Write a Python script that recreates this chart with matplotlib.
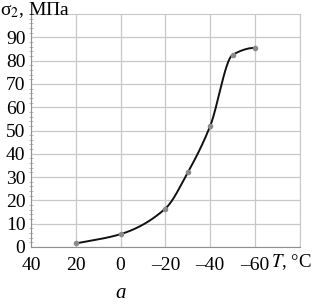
import numpy as np
import matplotlib
matplotlib.use('Agg')
import matplotlib.pyplot as plt
from matplotlib.ticker import MultipleLocator

# data
temps = [20, 0, -20, -30, -40, -50, -60]
sigma = [1.5, 5.5, 16.5, 32, 52, 82.5, 85.5]
x_ticks = [40, 20, 0, -20, -40, -60]
x_labels = ['40', '20', '0', '\u201320', '\u201340', '\u201360']
y_ticks = [0, 10, 20, 30, 40, 50, 60, 70, 80, 90]


def pchip(x, y, xs):
    # monotone cubic, just for a smooth line through the points
    x = np.asarray(x, float); y = np.asarray(y, float)
    h = np.diff(x); d = np.diff(y) / h
    m = np.zeros_like(y)
    for k in range(1, len(x) - 1):
        if d[k - 1] * d[k] > 0:
            w1 = 2 * h[k] + h[k - 1]; w2 = h[k] + 2 * h[k - 1]
            m[k] = (w1 + w2) / (w1 / d[k - 1] + w2 / d[k])
    m[0] = 0.0; m[-1] = d[-1]
    out = []
    for xv in xs:
        k = min(max(np.searchsorted(x, xv) - 1, 0), len(x) - 2)
        t = (xv - x[k]) / h[k]
        h00 = 2*t**3 - 3*t**2 + 1; h10 = t**3 - 2*t**2 + t
        h01 = -2*t**3 + 3*t**2; h11 = t**3 - t**2
        out.append(h00*y[k] + h10*h[k]*m[k] + h01*y[k+1] + h11*h[k]*m[k+1])
    return np.array(out)


plt.rcParams['font.family'] = ['Liberation Serif', 'DejaVu Serif']
plt.rcParams['mathtext.fontset'] = 'stix'

fig = plt.figure(figsize=(3.13, 3.06), dpi=100)
ax = fig.add_axes([0.099, 0.193, 0.859, 0.761])

xs_sorted = temps[::-1]
ys_sorted = sigma[::-1]
xx = np.linspace(-60, 20, 300)
ax.plot(xx, pchip(xs_sorted, ys_sorted, xx), color='#111111', lw=1.4, zorder=3)
ax.plot(temps, sigma, 'o', color='#8a8a8a', ms=3, zorder=4)

ax.set_xlim(40, -80)
ax.set_ylim(0, 100)
ax.set_xticks(x_ticks)
ax.set_xticklabels(x_labels)
ax.set_yticks(y_ticks)
ax.yaxis.set_minor_locator(MultipleLocator(2))

ax.grid(True, which='major', color='#c8c8c8', lw=0.9)
ax.set_axisbelow(True)
for s in ['top', 'right']:
    ax.spines[s].set_color('#c8c8c8')
for s in ['left', 'bottom']:
    ax.spines[s].set_color('#909090')
ax.tick_params(axis='both', which='major', length=0, labelsize=14)
ax.tick_params(axis='x', which='major', pad=7)
ax.tick_params(axis='y', which='major', pad=4)
ax.tick_params(axis='y', which='minor', length=3, direction='inout', color='#b0b0b0')

ax.axvline(-80, color='#c8c8c8', lw=0.9)

fig.text(0.0, 0.935, '\u03c3$_2$, МПа', fontsize=14, ha='left', va='bottom')
fig.text(0.997, 0.145, '$T$, °C', fontsize=13.5, ha='right', va='center')
fig.text(0.385, 0.01, 'a', fontsize=15, style='italic', ha='center', va='bottom')

fig.savefig('out.png', dpi=100)
